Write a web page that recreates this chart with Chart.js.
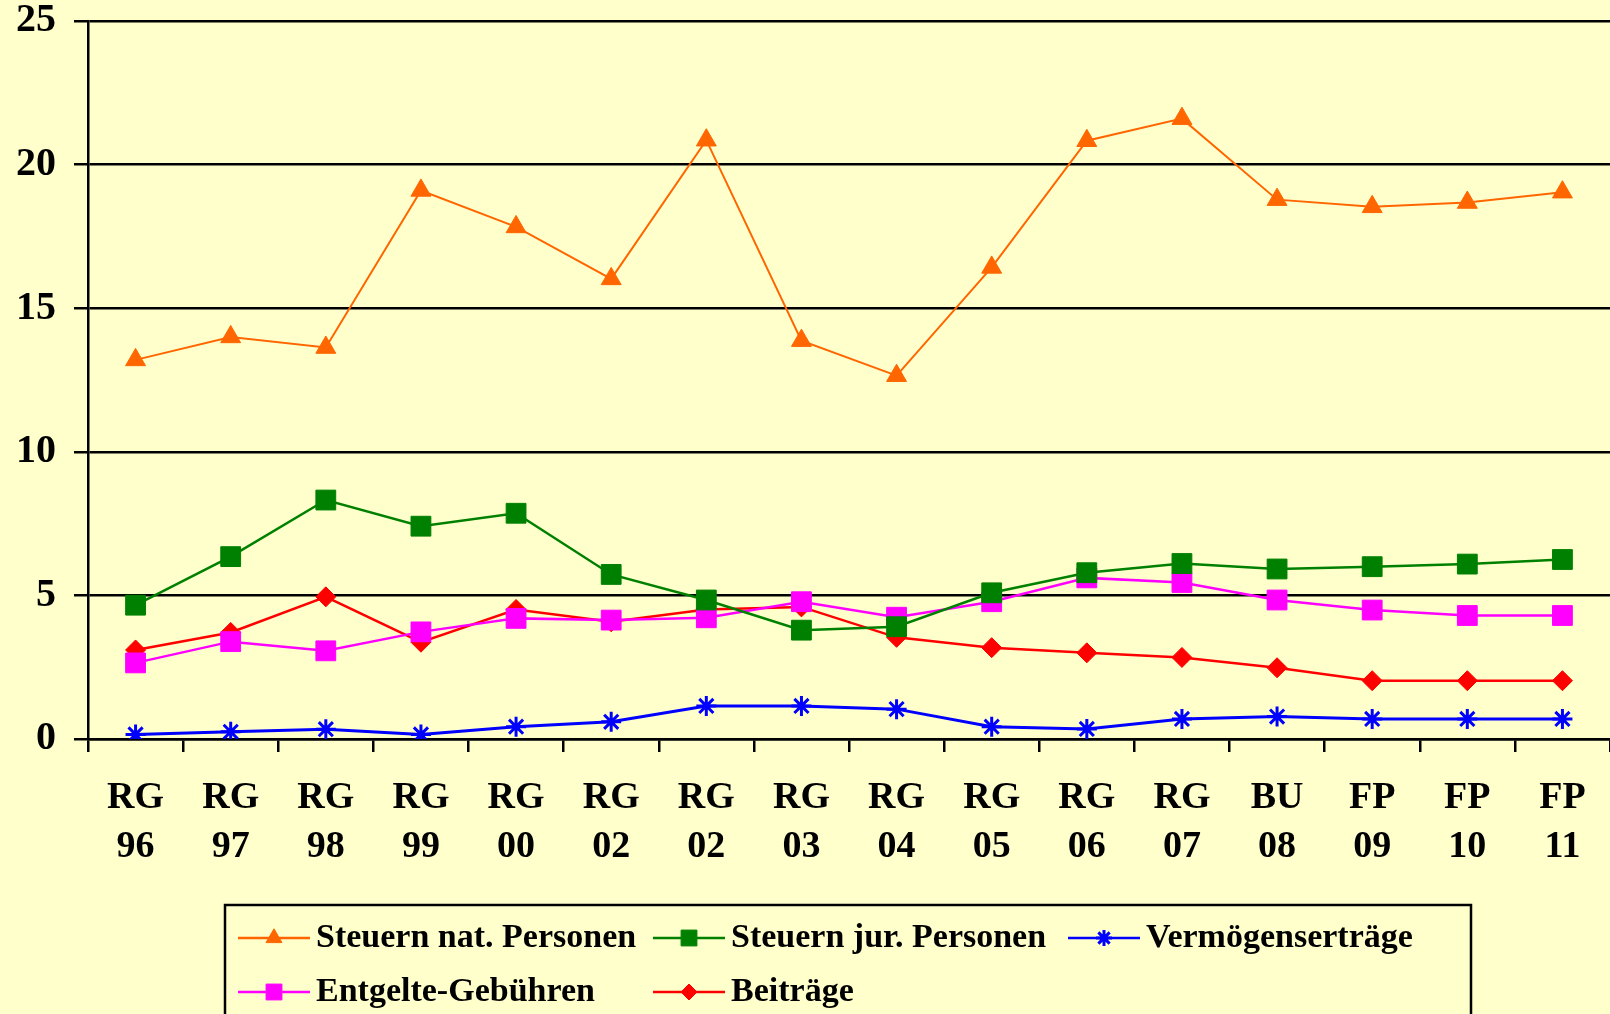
<!DOCTYPE html>
<html><head><meta charset="utf-8">
<script src="https://cdn.jsdelivr.net/npm/chart.js@4/dist/chart.umd.min.js"></script>
<style>html,body{margin:0;padding:0;background:#FFFFCC;overflow:hidden;} canvas{display:block;}</style>
</head><body>
<canvas id="c" width="1610" height="1014"></canvas>
<script>
const categories = [['RG','96'],['RG','97'],['RG','98'],['RG','99'],['RG','00'],['RG','02'],['RG','02'],['RG','03'],['RG','04'],['RG','05'],['RG','06'],['RG','07'],['BU','08'],['FP','09'],['FP','10'],['FP','11']];
const steuernNat = [13.2,14.0,13.63,19.1,17.83,16.02,20.85,13.87,12.65,16.42,20.83,21.6,18.78,18.53,18.68,19.04];
const steuernJur = [4.66,6.35,8.32,7.41,7.86,5.73,4.84,3.79,3.91,5.09,5.79,6.11,5.92,6.0,6.09,6.25];
const vermoegen = [0.16,0.25,0.34,0.16,0.43,0.6,1.15,1.15,1.04,0.43,0.35,0.7,0.78,0.7,0.7,0.7];
const entgelte = [2.65,3.39,3.07,3.73,4.2,4.14,4.22,4.78,4.24,4.78,5.61,5.45,4.84,4.49,4.3,4.3];
const beitraege = [3.1,3.71,4.95,3.37,4.51,4.08,4.51,4.6,3.54,3.18,3.0,2.84,2.48,2.03,2.03,2.03];
const seriesLabels = ['Steuern nat. Personen','Steuern jur. Personen','Vermögenserträge','Entgelte-Gebühren','Beiträge'];
const yMin = 0, yMax = 25, yStep = 5;

const FONT = '"Liberation Serif", "Times New Roman", serif';
const BG = '#FFFFCC';

function ds(label, data, color, style, radius, bw, lw) {
  return {label, data, borderColor: color, backgroundColor: color, pointBackgroundColor: color,
    pointBorderColor: color, pointStyle: style, pointRadius: radius, pointHoverRadius: radius,
    pointBorderWidth: bw, borderWidth: lw, tension: 0, fill: false};
}

const bgPlugin = {id:'bg', beforeDraw(chart){const c=chart.ctx; c.save(); c.fillStyle=BG; c.fillRect(0,0,chart.width,chart.height); c.restore();}};

const legendPlugin = {id:'customLegend', afterDraw(chart){
  const ctx = chart.ctx;
  ctx.save();
  ctx.strokeStyle = '#000'; ctx.lineWidth = 2.5;
  ctx.fillStyle = BG;
  ctx.fillRect(225, 905, 1246, 120);
  ctx.strokeRect(225, 905, 1246, 120);
  const cols = [238, 653, 1068], rows = [938, 992];
  chart.data.datasets.forEach((d, i) => {
    const x = cols[i % 3], y = rows[Math.floor(i / 3)];
    ctx.strokeStyle = d.borderColor; ctx.lineWidth = 2.5;
    ctx.beginPath(); ctx.moveTo(x, y); ctx.lineTo(x + 72, y); ctx.stroke();
    ctx.fillStyle = d.borderColor; ctx.strokeStyle = d.borderColor; ctx.lineWidth = d.pointBorderWidth;
    Chart.helpers.drawPoint(ctx, {pointStyle: d.pointStyle, radius: d.pointRadius * 0.8, borderWidth: d.pointBorderWidth, rotation: 0}, x + 36, y);
    ctx.fillStyle = '#000';
    ctx.font = 'bold 34px ' + FONT;
    ctx.textBaseline = 'middle'; ctx.textAlign = 'left';
    ctx.fillText(d.label, x + 78, y);
  });
  ctx.restore();
}};

new Chart(document.getElementById('c'), {
  type: 'line',
  data: {
    labels: categories,
    datasets: [
      ds(seriesLabels[0], steuernNat, '#FF6600', 'triangle', 11.5, 1, 2),
      ds(seriesLabels[1], steuernJur, '#008000', 'rect', 14, 1, 2.5),
      ds(seriesLabels[2], vermoegen, '#0000FF', 'star', 10, 3, 3),
      ds(seriesLabels[3], entgelte, '#FF00FF', 'rect', 14, 1, 2.5),
      ds(seriesLabels[4], beitraege, '#FF0000', 'rectRot', 10, 1, 2.5)
    ]
  },
  options: {
    responsive: false, animation: false, devicePixelRatio: 1,
    layout: {autoPadding: false, padding: {top: 21, right: 0, left: 0, bottom: 0}},
    plugins: {legend: {display: false}, tooltip: {enabled: false}},
    scales: {
      x: {
        type: 'category', offset: true,
        grid: {offset: true, drawOnChartArea: false, drawTicks: true, tickLength: 13, color: '#000', lineWidth: 2.5},
        border: {display: true, color: '#000', width: 2.5},
        ticks: {color: '#000', autoSkip: false, maxRotation: 0, padding: 22,
          font: {family: FONT, size: 38, weight: 'bold', lineHeight: 1.29}},
        afterFit: s => { s.height = 275; s.paddingLeft = 0; s.paddingRight = 0; }
      },
      y: {
        min: yMin, max: yMax,
        ticks: {stepSize: yStep, color: '#000', padding: 18,
          font: {family: FONT, size: 40, weight: 'bold', lineHeight: 1.0}},
        grid: {color: '#000', lineWidth: 2.5, tickLength: 14, drawTicks: true},
        border: {display: true, color: '#000', width: 2.5},
        afterFit: s => { s.width = 88; s.paddingTop = 0; s.paddingBottom = 0; }
      }
    }
  },
  plugins: [bgPlugin, legendPlugin]
});
</script>
</body></html>
